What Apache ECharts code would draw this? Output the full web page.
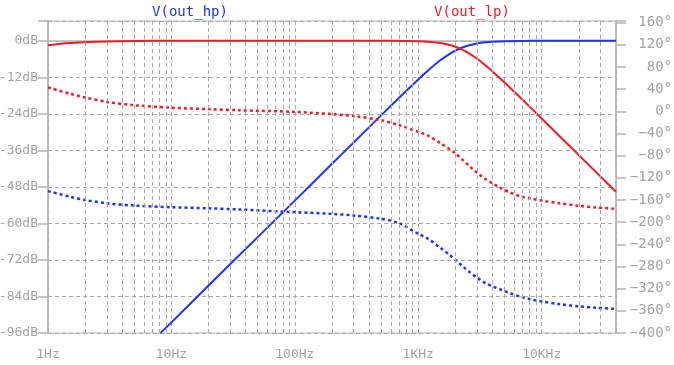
<!DOCTYPE html>
<html><head><meta charset="utf-8">
<script src="https://cdn.jsdelivr.net/npm/echarts@6/dist/echarts.min.js"></script>
<style>html,body{margin:0;padding:0;background:#fff}#c{width:674px;height:365px}</style>
</head><body><div id="c"></div>
<script>
// Frequency (Hz) and values
const lpMagFreq = [1,1.5,2,3,5,10,100,500,800,1000,1200,1500,1800,2000,2300,2500,3000,3500,4000,5000,6000,7000,10000,15000,20000,30000,40000];
const lpMagDb   = [-1.5,-0.75,-0.45,-0.2,-0.07,0,0,0,-0.06,-0.15,-0.31,-0.72,-1.38,-1.96,-3.01,-3.8,-5.9,-8.03,-10.07,-13.68,-16.75,-19.38,-25.54,-32.57,-37.57,-44.62,-49.61];

const hpMagFreq = [8.15,10,20,50,100,200,300,500,700,1000,1200,1500,1800,2000,2300,2500,3000,3500,4000,5000,7000,10000,20000,40000];
const hpMagDb   = [-96,-92.5,-80.4,-64.5,-52.5,-40.4,-33.4,-24.5,-18.7,-12.7,-9.78,-6.5,-4.29,-3.23,-2.13,-1.62,-0.86,-0.48,-0.29,-0.12,-0.03,-0.01,0,0];

const lpPhFreq = [1,1.5,2,3,5,10,20,35,100,200,300,500,700,1000,1200,1500,2000,2300,2600,3000,3500,4000,4700,5500,6600,8000,10000,14000,20000,28000,40000];
const lpPhDeg  = [43,32,25,17,11,6.5,4,2,-1,-5,-8.5,-16,-25,-37,-44,-57,-76,-88,-99,-111,-122,-130,-139,-146,-153,-157,-161,-166,-170.5,-173.5,-176];

const hpPhFreq = [1,1.5,2,3,5,10,20,35,100,200,300,500,700,1000,1200,1500,1800,2000,2300,2600,3000,3500,4000,4700,5500,6600,8000,10000,14000,20000,28000,40000];
const hpPhDeg  = [-144,-154,-160,-166,-170,-173,-175,-177,-182,-185,-188,-194,-202,-221,-230,-246,-259,-268,-280,-290,-300,-310,-316,-322,-328,-334,-339,-343,-348,-352,-354.5,-356.5];

const decadeLabels = ['1Hz','10Hz','100Hz','1KHz','10KHz'];
const minorGridFreq = [2,3,4,5,6,7,8,9,20,30,40,50,60,70,80,90,200,300,400,500,600,700,800,900,2000,3000,4000,5000,6000,7000,8000,9000,20000,30000];
const seriesNames = ['V(out_hp)','V(out_lp)'];

const RED = '#f41c24', BLUE = '#1e35f5';
const AX = '#b5b5b5', TXT = '#a4a4a4', GRID = '#a9a9a9';
const FONT = 'DejaVu Sans Mono';
const zip = (a,b) => a.map((v,i)=>[v,b[i]]);

const chart = echarts.init(document.getElementById('c'), null, {renderer:'canvas'});
chart.setOption({
  animation:false,
  grid:{left:48,right:58,top:21,bottom:32,show:true,borderColor:AX,borderWidth:1,containLabel:false,outerBoundsMode:'none'},
  graphic:[
    {type:'text',x:190,y:5,style:{text:seriesNames[0],fill:BLUE,font:'14px '+FONT,textAlign:'center'}},
    {type:'text',x:472,y:5,style:{text:seriesNames[1],fill:RED,font:'14px '+FONT,textAlign:'center'}}
  ],
  xAxis:{type:'log',logBase:10,min:1,max:40000,
    axisLine:{show:true,lineStyle:{color:AX,width:1.5}},
    axisTick:{show:true,length:5,lineStyle:{color:AX}},
    splitLine:{show:true,lineStyle:{color:GRID,type:[4,3],width:1}},
    minorTick:{show:false},
    axisLabel:{color:TXT,fontFamily:FONT,fontSize:13,margin:15,
      formatter:v=>{const e=Math.log10(v);const r=Math.round(e);return Math.abs(e-r)<1e-6&&r>=0&&r<decadeLabels.length?decadeLabels[r]:'';}}
  },
  yAxis:[
    {type:'value',position:'left',min:-96,max:6.5,interval:12,
      axisLine:{show:true,lineStyle:{color:AX,width:1.5}},
      axisTick:{show:true,length:10,lineStyle:{color:AX,width:1.5}},
      splitLine:{show:true,lineStyle:{color:GRID,type:[4,3],width:1}},
      axisLabel:{color:TXT,fontFamily:FONT,fontSize:13,margin:10,
        formatter:v=>Math.abs(v%12)<1e-6?Math.round(v)+'dB':''}},
    {type:'value',position:'right',min:-400,max:163,interval:40,
      axisLine:{show:true,lineStyle:{color:AX,width:1.5}},
      axisTick:{show:true,length:10,lineStyle:{color:AX,width:1.5}},
      splitLine:{show:false},
      axisLabel:{color:TXT,fontFamily:FONT,fontSize:14,margin:56,align:'right',
        formatter:v=>Math.abs(v%40)<1e-6?(v<0?'\u2212'+(-Math.round(v)):Math.round(v))+'°':''}}
  ],
  series:[
    {type:'line',name:'minor',data:[],silent:true,
      markLine:{silent:true,symbol:['none','none'],label:{show:false},
        lineStyle:{color:GRID,type:[4,3],width:1},
        data:minorGridFreq.map(f=>({xAxis:f}))}},
    {type:'line',name:'hp mag',yAxisIndex:0,data:zip(hpMagFreq,hpMagDb),showSymbol:false,smooth:0.3,
      lineStyle:{color:BLUE,width:2}},
    {type:'line',name:'hp phase',yAxisIndex:1,data:zip(hpPhFreq,hpPhDeg),showSymbol:false,smooth:0.3,
      lineStyle:{color:BLUE,width:2.5,type:[3,3]}},
    {type:'line',name:'lp mag',yAxisIndex:0,data:zip(lpMagFreq,lpMagDb),showSymbol:false,smooth:0.3,
      lineStyle:{color:RED,width:2}},
    {type:'line',name:'lp phase',yAxisIndex:1,data:zip(lpPhFreq,lpPhDeg),showSymbol:false,smooth:0.3,
      lineStyle:{color:RED,width:2.5,type:[3,3]}}
  ]
});
</script></body></html>
